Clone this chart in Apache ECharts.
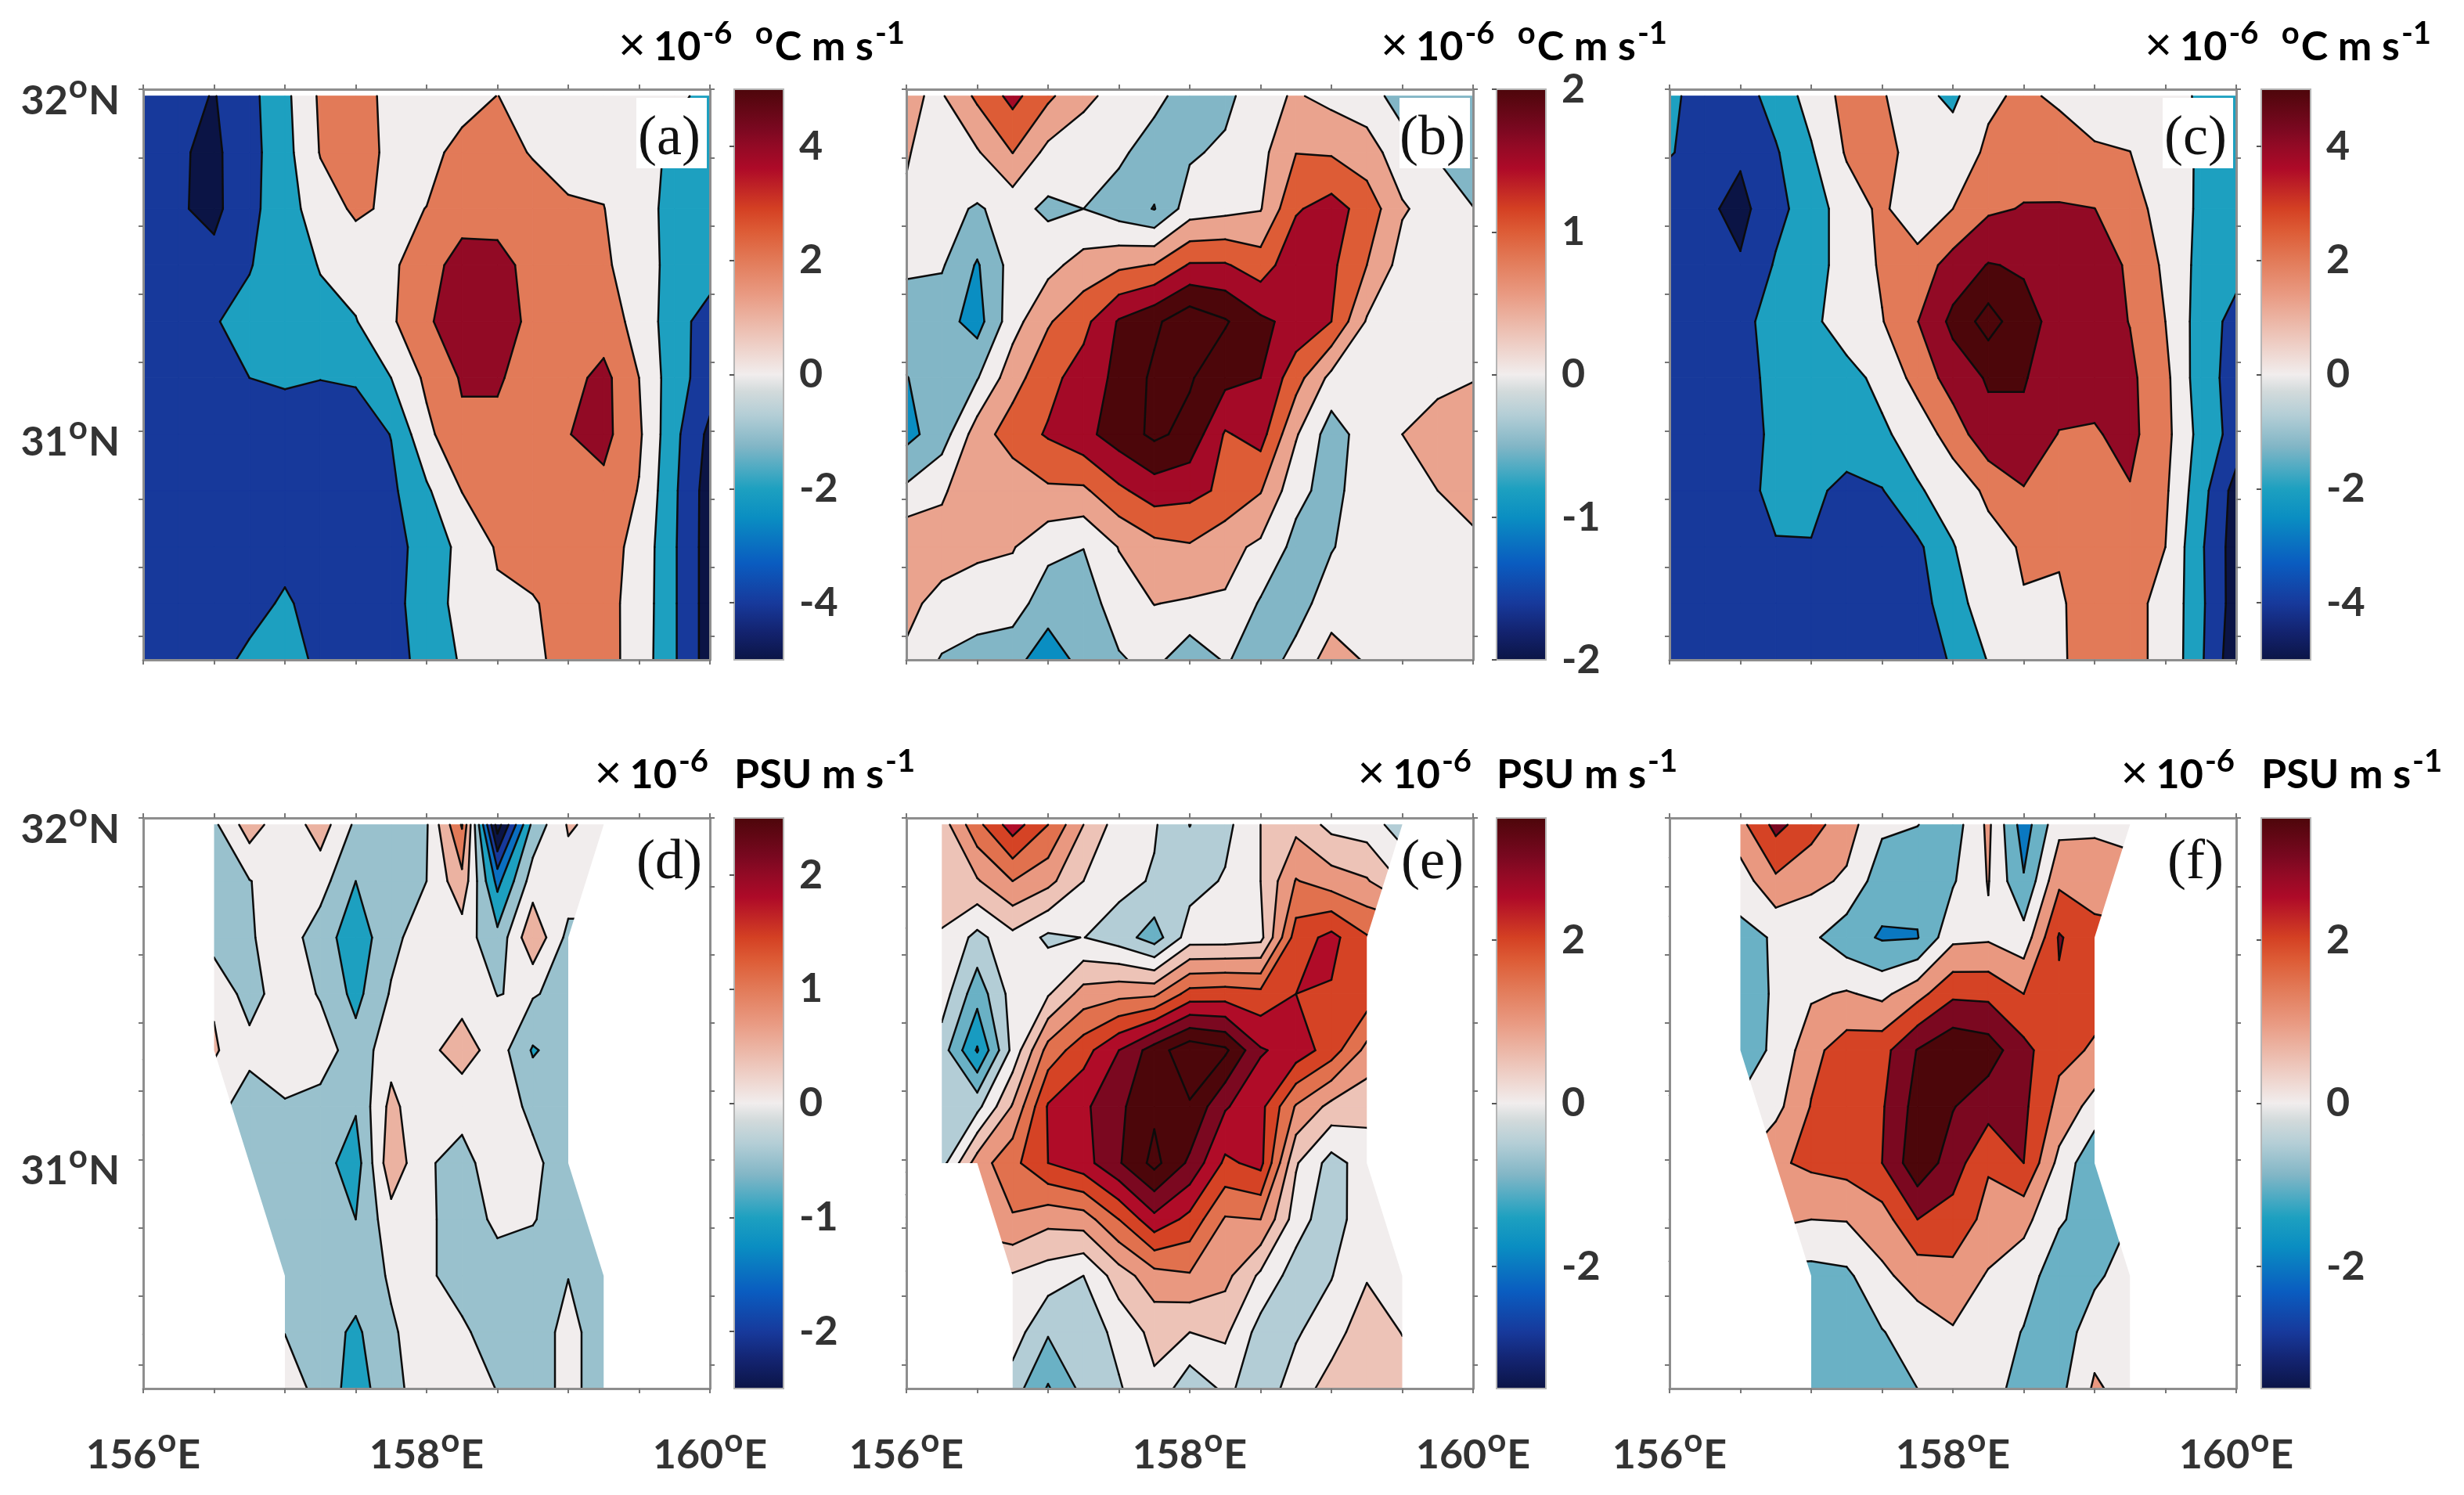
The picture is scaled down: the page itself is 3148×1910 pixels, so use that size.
<!DOCTYPE html>
<html>
<head>
<meta charset="utf-8">
<style>html,body{margin:0;padding:0;background:#fff}#chart{width:3148px;height:1910px}</style>
<script src="https://cdn.jsdelivr.net/npm/echarts@6/dist/echarts.min.js"></script>
</head>
<body>
<div id="chart"></div>
<script>
// grid of the model output
const lons = [156,156.25,156.5,156.75,157,157.25,157.5,157.75,158,158.25,158.5,158.75,159,159.25,159.5,159.75,160];
const lats = [31.98,31.815,31.65,31.485,31.32,31.155,30.99,30.825,30.66,30.495,30.33];
const latTicks = [32,31.8,31.6,31.4,31.2,31,30.8,30.6,30.4];

// values, x 1e-6 (rows north to south)
const panelA = [
  [-4,-4.4,-5.1,-3.6,-1.5,1.3,1.6,.6,.3,.5,1.02,.5,.3,.2,0,-.7,-1.4],
  [-4,-4.8,-5.4,-3.7,-1.7,1.1,1.6,.7,.6,1.4,1.5,.9,.7,.4,-.2,-1.4,-1.6],
  [-4,-4.8,-5.5,-3.5,-1.9,.1,1.3,.7,1.02,1.9,2.5,1.7,1.1,1.05,-.4,-1.5,-1.7],
  [-4,-4.2,-4.4,-3.1,-2,-.9,-.1,.7,2,4,3.4,2.6,2.2,1.4,-.3,-1.5,-2],
  [-4,-3.6,-3.1,-2.5,-2,-1.5,-1.1,.7,2.7,4.2,3.6,2.7,2.2,1.9,.4,-2.2,-3.9],
  [-4,-4,-3.7,-3,-2.85,-2.98,-2.8,-1,1.4,3.2,3.1,2.6,2.3,3.6,1,-2.2,-4],
  [-4,-4,-4,-3.6,-3.6,-3.5,-4,-2.95,.5,2.6,2.8,2.6,2.95,3.6,1.3,-2.5,-5.5],
  [-4,-4,-4,-4,-4,-4,-4,-3.4,-1.3,1.05,1.8,2,2.2,2.5,.9,-2.7,-6],
  [-4,-4,-4,-4,-4,-4,-4,-3.8,-2.1,-.5,1.2,1.8,2,1.8,.4,-2.8,-6],
  [-4,-4,-4,-4,-2.6,-4.2,-4,-3.9,-1.6,-.6,.7,.85,1.7,1.6,.3,-2.8,-6],
  [-4,-4,-4,-2.4,-2,-3.5,-3.6,-3.9,-2.2,-.8,-.1,.7,1.5,1.7,.2,-2.8,-6]
];
const panelB = [
  [.3,.2,.85,1.4,.85,.35,.1,-.1,-.5,-.4,.1,.3,.1,0,-.5,-.5,-.5],
  [.28,.05,.2,.76,.1,0,-.15,-.5,-.32,-.15,.1,.74,.7,.45,0,-.3,-.5],
  [.2,-.1,-.3,-.07,-.35,-.25,-.5,-.77,0,.1,.22,1.2,1.45,1.05,.3,.05,-.24],
  [-.2,-.2,-.8,-.05,.1,.45,.65,.77,1.3,1.3,1,1.6,1.35,.75,.05,0,0],
  [-.4,-.55,-.95,.05,.7,1.1,1.8,2.15,2.6,2.3,1.85,1.6,1.25,.2,.05,.1,.1],
  [-.77,-.45,-.28,.55,1.1,1.47,1.88,2.35,2.3,1.9,1.75,.95,.1,-.05,0,.1,.23],
  [-.9,-.5,.5,1,1.3,1.6,2,2.35,2.1,1.2,1.45,.3,-.5,0,.25,.5,.5],
  [-.15,.2,.5,.4,.67,.66,1.15,1.5,1.4,1.15,.78,-.1,-.45,.1,.2,.25,.5],
  [.7,.4,.35,.28,-.1,-.24,.27,.6,.7,.4,.15,-.4,-.28,0,.1,.15,.1],
  [.33,.15,0,0,-.55,-.5,0,.26,.2,.2,-.3,-.45,0,.1,.1,.1,.1],
  [.2,-.3,-.45,-.6,-1,-.6,-.3,-.1,-.6,-.2,-.5,-.1,.48,.2,.1,.1,.1]
];
const panelC = [
  [-2.5,-4,-3.9,-2.2,-.25,1.6,1.2,-.4,-1.4,.7,1.3,.7,.4,.1,-.4,-1.2,-1.6],
  [-2.9,-3.6,-4.7,-3.2,-1.2,1.2,1.5,.4,0,1.3,2.2,1.9,1.15,1.02,-.2,-1.2,-1.6],
  [-4,-4.6,-5.6,-3.6,-2,0,1.4,-.5,1,2.7,3.1,3.15,3.02,1.9,.1,-1.3,-1.7],
  [-4,-4.2,-4.8,-2.8,-1.5,-.5,1.3,1.9,3.8,5.1,4.8,4.2,3.7,2.8,.6,-1.6,-2.3],
  [-4,-3.8,-3.5,-2.3,-1.4,-.1,.9,2.95,5.5,7.9,5.6,4.4,3.8,2.95,1,-1.9,-3.7],
  [-4,-3.8,-3.5,-2.6,-2.2,-1.6,-.5,1.7,3.9,5.2,5.1,4.2,3.6,3.4,1.5,-2.1,-3.8],
  [-4,-3.9,-3.6,-2.7,-2.2,-1.8,-1.3,-.2,1.9,4.4,4.7,2.9,2.85,3.5,1.6,-1.7,-3.8],
  [-4,-4,-3.5,-2.6,-2.5,-3.6,-3.1,-1.2,-.2,1.4,2.85,2.4,2.5,2.9,1.3,-2.2,-5.8],
  [-4,-4,-4,-3.1,-3.1,-4,-3.8,-3.4,-1.1,.3,1.2,1.2,2,1.9,1,-2.7,-6],
  [-4,-4,-4,-4,-4,-4,-4,-4,-1.6,-.2,.9,.75,2,1.3,.7,-2.6,-6],
  [-4,-4,-4,-4,-4,-4,-4,-4,-2.8,-.9,.5,.7,2,1.3,.7,-2.7,-6.4]
];
const panelD = [
  [-.35,-.35,-.35,.5,-.1,.5,-.35,-.5,-.3,1.3,-3,-.6,.3,.1,.1,.1,.1],
  [-.4,-.4,-.4,-.27,.05,-.05,-.75,-.5,-.25,.6,-1.4,0,.05,.05,.05,.05,.05],
  [-.5,-.5,-.5,-.3,0,-.5,-1.05,-.4,.05,0,-.6,.65,-.4,-.4,-.4,-.4,-.4],
  [.2,.2,.2,-.5,.1,-.3,-.9,-.2,.1,.05,-.26,-.2,-.45,-.45,-.45,-.45,-.45],
  [.3,.3,.3,-.05,.05,.05,-.55,.05,.1,.5,0,-.8,-.5,-.5,-.5,-.5,-.5],
  [0,0,0,-.6,-.3,-.45,-.7,.4,-.2,-.1,.1,-.4,-.5,-.5,-.5,-.5,-.5],
  [-.5,-.5,-.5,-.5,-.5,-.55,-1,.6,-.2,-.4,0,-.1,-.6,-.5,-.5,-.5,-.5],
  [-.45,-.45,-.45,-.45,-.45,-.45,-.75,.05,-.15,-.5,-.15,-.22,-.5,-.5,-.5,-.5,-.5],
  [-.45,-.45,-.45,-.45,-.45,-.45,-.5,-.2,-.15,-.5,-.45,-.5,-.26,-.5,-.5,-.5,-.5],
  [-.26,-.26,-.26,-.26,-.26,-.5,-.85,-.3,-.05,-.15,-.55,-.5,-.1,-.5,-.5,-.5,-.5],
  [0,0,0,0,0,-.4,-1,-.4,0,-.1,-.26,-.5,-.1,-.5,-.5,-.5,-.5]
];
const panelE = [
  [.5,.5,1.6,2.5,1.75,.75,0,-.2,-.76,-.4,.25,.6,.1,0,-.5,-.5,-.5],
  [.5,.5,.7,1.25,.9,.25,-.1,-.3,-.45,-.2,.25,1.28,1,.8,.2,.2,.2],
  [.2,.2,-.4,.1,-.35,-.24,-.5,-1,0,0,.1,2,2.4,1.8,1.8,1.8,1.8],
  [0,0,-1.05,-.05,.2,.95,1.1,1.15,1.95,2,1.9,2.25,2.2,2.05,2.05,2.05,2.05],
  [-.5,-.5,-1.8,-.1,1.45,2.05,2.75,3.5,4.1,3.85,2.8,2.55,2,1.1,1.1,1.1,1.1],
  [-.5,-.5,-.4,.8,2.3,2.65,3.15,3.65,3.7,2.8,2.4,1.2,.6,.4,.4,.4,.4],
  [-.45,-.45,1,1.6,2.25,2.55,3.2,3.9,3.15,2.15,2.4,.3,-.45,0,0,0,0],
  [.8,.8,1,1.2,.9,1,1.75,2.6,2.1,1.2,1.25,0,-.6,.2,.2,.2,.2],
  [.2,.2,.2,.2,0,-.25,.5,1.05,1.2,.9,.15,-.5,-.27,.2,.2,.2,.2],
  [0,0,0,0,-.7,-.55,-.1,.4,.25,.35,-.45,-.3,0,.6,.23,.23,.23],
  [-.5,-.5,-.5,-.5,-1.3,-.6,-.3,.15,-.6,-.15,-.5,-.05,.5,.55,.55,.55,.55]
];
const panelF = [
  [1.2,1.2,1.2,2.8,1.9,.9,-.3,-.48,-1,.7,-2,.2,.3,.1,.1,.1,.1],
  [0,0,0,1.3,.75,.35,-1.1,-1.2,-.6,.55,-1.41,1.3,1.15,1,1,1,1],
  [-.8,-.8,-.8,-.4,-.3,-1.1,-1.6,-1.55,.25,.35,-.1,2.6,1.75,1.7,1.7,1.7,1.7],
  [-.9,-.9,-.9,-.4,.35,.6,.25,1.15,2.3,2.25,1.5,2.35,1.8,1.8,1.8,1.8,1.8],
  [-.9,-.9,-.9,-.35,1.2,2,2.15,3.55,4.3,4,2.8,1.75,1.4,1.4,1.4,1.4,1.4],
  [-.4,-.4,-.4,.2,1.55,2.1,2.4,3.9,3.55,2.9,2.7,1.2,.1,.1,.1,.1,.1],
  [.5,.5,.5,1.35,1.7,1.9,2.5,4.2,3,1.6,2.5,.2,-1.3,-1.3,-1.3,-1.3,-1.3],
  [.5,.5,.5,.7,.5,.55,1.05,2.5,2.1,1.2,.8,-.4,-.9,-.5,-.5,-.5,-.5],
  [-.85,-.85,-.85,-.85,-.85,-.7,.3,.9,1.2,.4,-.1,-1,-.7,0,0,0,0],
  [-1,-1,-1,-1,-1,-1,-.55,0,.4,0,-.55,-1.1,.1,0,0,0,0],
  [-1,-1,-1,-1,-1,-1,-1,-.5,0,0,-1,-.8,.65,.1,.1,.1,.1]
];

// contour levels of each panel
const levelsAC = [-7,-5,-3,-1,1,3,5,7];
const levelsB = [-2.25,-1.75,-1.25,-.75,-.25,.25,.75,1.25,1.75,2.25];
const levelsD = [-2.75,-2.25,-1.75,-1.25,-.75,-.25,.25,.75,1.25,1.75,2.25,2.75];
const levelsE = [-3.75,-3.25,-2.75,-2.25,-1.75,-1.25,-.75,-.25,.25,.75,1.25,1.75,2.25,2.75,3.25,3.75];
const levelsF = [-3.5,-2.5,-1.5,-.5,.5,1.5,2.5,3.5];

// edge of the salinity data (lon, lat), everything outside is blank
const leftD = [[156.5,32],[156.5,31.32],[157,30.66],[157,30.33]];
const rightD = [[159.25,32],[159.25,31.98],[159.125,31.815],[159,31.65],[159,30.99],[159.25,30.66],[159.25,30.33]];
const leftE = [[156.25,32],[156.25,30.99],[156.5,30.99],[156.75,30.66],[156.75,30.33]];
const rightE = [[159.5,32],[159.5,31.98],[159.25,31.65],[159.25,30.99],[159.5,30.66],[159.5,30.33]];

// colorbar ranges and ticks
const climAC = [-5,5], ticksAC = [-4,-2,0,2,4];
const climB = [-2,2], ticksB = [-2,-1,0,1,2];
const climD = [-2.5,2.5], ticksD = [-2,-1,0,1,2];
const climEF = [-3.5,3.5], ticksEF = [-2,0,2];

// colormap as seen in the colorbars
const cmapPos = [0,.05,.1,.17,.25,.3,.375,.43,.47,.5,.57,.64,.7,.75,.79,.86,.9,.93,1];
const cmapCol = ['#0b1445','#13236f','#17399b','#0a5cc0','#0a8ec2','#1da0c0','#82b6c6','#b4ced6','#d2dadb','#f1eded','#edc4b8','#e99a82','#e27a58','#dd5c36','#d44023','#ae0a28','#920a25','#7a0820','#4c060a'];

const FONT = 'Lato';
const GREY = '#8e8e8e';

function hexRgb(h) { return [1,3,5].map(i => parseInt(h.substr(i,2),16)); }
function cmap(t) {
  t = Math.max(0, Math.min(1, t));
  let i = 0;
  while (i < cmapPos.length - 2 && t > cmapPos[i+1]) i++;
  const f = (t - cmapPos[i]) / (cmapPos[i+1] - cmapPos[i]);
  const a = hexRgb(cmapCol[i]), b = hexRgb(cmapCol[i+1]);
  return 'rgb(' + a.map((v,k) => Math.round(v + (b[k]-v)*f)).join(',') + ')';
}

// cut a polygon to v>=L (sign 1) or v<=L (sign -1)
function clip(poly, L, sign) {
  const out = [];
  for (let i = 0; i < poly.length; i++) {
    const p = poly[i], q = poly[(i+1)%poly.length];
    const pin = (p[2]-L)*sign >= 0, qin = (q[2]-L)*sign >= 0;
    if (pin) out.push(p);
    if (pin !== qin) {
      const f = (L-p[2])/(q[2]-p[2]);
      out.push([p[0]+(q[0]-p[0])*f, p[1]+(q[1]-p[1])*f, L]);
    }
  }
  return out;
}

// filled bands and contour segments, in lon/lat
function contour(grid, levels, clim) {
  const fills = [], lines = [];
  const edges = [-Infinity].concat(levels, [Infinity]);
  for (let b = 0; b < edges.length-1; b++) {
    const lo = edges[b], hi = edges[b+1];
    const mid = isFinite(lo) && isFinite(hi) ? (lo+hi)/2 : (isFinite(lo) ? clim[1]*2 : clim[0]*2);
    const color = cmap((mid-clim[0])/(clim[1]-clim[0]));
    const polys = [];
    for (let r = 0; r < lats.length-1; r++) for (let c = 0; c < lons.length-1; c++) {
      let poly = [[lons[c],lats[r],grid[r][c]],[lons[c+1],lats[r],grid[r][c+1]],[lons[c+1],lats[r+1],grid[r+1][c+1]],[lons[c],lats[r+1],grid[r+1][c]]];
      if (isFinite(lo)) poly = clip(poly, lo, 1);
      if (poly.length > 2 && isFinite(hi)) poly = clip(poly, hi, -1);
      if (poly.length > 2) polys.push(poly);
    }
    fills.push({color, polys});
  }
  levels.forEach(L => {
    for (let r = 0; r < lats.length-1; r++) for (let c = 0; c < lons.length-1; c++) {
      const q = [[lons[c],lats[r],grid[r][c]],[lons[c+1],lats[r],grid[r][c+1]],[lons[c+1],lats[r+1],grid[r+1][c+1]],[lons[c],lats[r+1],grid[r+1][c]]];
      const cross = [];
      for (let i = 0; i < 4; i++) {
        const p = q[i], n = q[(i+1)%4];
        if ((p[2] < L) !== (n[2] < L)) {
          const f = (L-p[2])/(n[2]-p[2]);
          cross[i] = [p[0]+(n[0]-p[0])*f, p[1]+(n[1]-p[1])*f];
        }
      }
      const idx = [0,1,2,3].filter(i => cross[i]);
      if (idx.length === 2) lines.push([cross[idx[0]], cross[idx[1]]]);
      if (idx.length === 4) {
        for (let i = 0; i < 4; i++) if (q[i][2] < L) lines.push([cross[(i+3)%4], cross[i]]);
      }
    }
  });
  return {fills, lines};
}

const LEFTS = [183, 1158, 2133];
const CB_LEFTS = [938, 1912, 2889];
const TOPS = [114, 1045];
const PW = 724, PH = 729, CW = 63;

const panels = [
  {grid:panelA, levels:levelsAC, clim:climAC, ticks:ticksAC, col:0, row:0, tag:'(a)', box:true},
  {grid:panelB, levels:levelsB, clim:climB, ticks:ticksB, col:1, row:0, tag:'(b)', box:true},
  {grid:panelC, levels:levelsAC, clim:climAC, ticks:ticksAC, col:2, row:0, tag:'(c)', box:true},
  {grid:panelD, levels:levelsD, clim:climD, ticks:ticksD, col:0, row:1, tag:'(d)', left:leftD, right:rightD},
  {grid:panelE, levels:levelsE, clim:climEF, ticks:ticksEF, col:1, row:1, tag:'(e)', left:leftE, right:rightE},
  {grid:panelF, levels:levelsF, clim:climEF, ticks:ticksEF, col:2, row:1, tag:'(f)', left:leftD, right:rightD}
];

const richO = {o:{fontFamily:FONT, fontWeight:'bold', fontSize:42, color:'#333', padding:[0,1,36,1]}};
const grids = [], xAxes = [], yAxes = [], series = [], graphics = [];

panels.forEach((p, i) => {
  const left = LEFTS[p.col], top = TOPS[p.row];
  grids.push({left, top, width:PW, height:PH});
  const lineStyle = {color:GREY, width:3};
  const tick = {show:true, length:6, inside:false, lineStyle:{color:'#777', width:2}};
  xAxes.push({gridIndex:grids.length-1, type:'value', min:156, max:160, interval:.5, position:'bottom', z:10,
    splitLine:{show:false}, axisLine:{onZero:false, lineStyle}, axisTick:tick,
    axisLabel:{show:p.row===1, customValues:[156,158,160], margin:46, hideOverlap:false, color:'#333', fontFamily:FONT, fontWeight:'bold', fontSize:52, rich:richO, formatter:v => v + '{o|o}E'}});
  xAxes.push({gridIndex:grids.length-1, type:'value', min:156, max:160, interval:.5, position:'top', z:10,
    splitLine:{show:false}, axisLine:{onZero:false, lineStyle}, axisTick:tick, axisLabel:{show:false}});
  yAxes.push({gridIndex:grids.length-1, type:'value', min:30.33, max:32, position:'left', z:10,
    splitLine:{show:false}, axisLine:{onZero:false, lineStyle}, axisTick:Object.assign({customValues:latTicks}, tick),
    axisLabel:{show:p.col===0, customValues:[31,32], margin:30, color:'#333', fontFamily:FONT, fontWeight:'bold', fontSize:52, rich:richO, padding:[30,0,0,0], formatter:v => Math.round(v) + '{o|o}N'}});
  yAxes.push({gridIndex:grids.length-1, type:'value', min:30.33, max:32, position:'right', z:10,
    splitLine:{show:false}, axisLine:{onZero:false, lineStyle}, axisTick:Object.assign({customValues:latTicks}, tick), axisLabel:{show:false}});

  const c = contour(p.grid, p.levels, p.clim);
  series.push({
    type:'custom', coordinateSystem:'cartesian2d', xAxisIndex:xAxes.length-2, yAxisIndex:yAxes.length-2, silent:true, clip:false,
    data:[[156,32]],
    renderItem: (params, api) => {
      const children = [];
      c.fills.forEach(f => f.polys.forEach(poly => {
        children.push({type:'polygon', shape:{points:poly.map(v => api.coord([v[0],v[1]]))},
          style:{fill:f.color, stroke:f.color, lineWidth:1}});
      }));
      c.lines.forEach(s => {
        const a = api.coord(s[0]), b = api.coord(s[1]);
        children.push({type:'line', shape:{x1:a[0],y1:a[1],x2:b[0],y2:b[1]},
          style:{stroke:'#0c0c0c', lineWidth:2.5, lineCap:'round'}});
      });
      if (p.left) {
        const pts = [[156,32]].concat(p.left, [[156,30.33]]);
        children.push({type:'polygon', shape:{points:pts.map(v => api.coord(v))}, style:{fill:'#fff'}});
        const ptsR = [[160,32]].concat(p.right, [[160,30.33]]);
        children.push({type:'polygon', shape:{points:ptsR.map(v => api.coord(v))}, style:{fill:'#fff'}});
      }
      return {type:'group', children};
    }
  });

  // colorbar
  const cbLeft = CB_LEFTS[p.col];
  grids.push({left:cbLeft, top, width:CW, height:PH});
  xAxes.push({gridIndex:grids.length-1, type:'value', min:0, max:1, show:false});
  yAxes.push({gridIndex:grids.length-1, type:'value', min:p.clim[0], max:p.clim[1], position:'right', z:10,
    splitLine:{show:false}, axisLine:{show:false}, axisTick:{customValues:p.ticks, inside:true, length:6, lineStyle:{color:'#555', width:2}},
    axisLabel:{customValues:p.ticks, margin:20, color:'#333', fontFamily:FONT, fontWeight:'bold', fontSize:52}});
  const stops = cmapPos.map((pos,k) => ({offset:pos, color:cmapCol[k]}));
  series.push({
    type:'custom', coordinateSystem:'cartesian2d', xAxisIndex:xAxes.length-1, yAxisIndex:yAxes.length-1, silent:true,
    data:[[0,p.clim[0]]],
    renderItem: (params, api) => {
      const a = api.coord([0,p.clim[1]]), b = api.coord([1,p.clim[0]]);
      return {type:'rect', shape:{x:a[0],y:a[1],width:b[0]-a[0],height:b[1]-a[1]},
        style:{fill:new echarts.graphic.LinearGradient(0,1,0,0,stops), stroke:'#b5b5b5', lineWidth:2}};
    }
  });

  // panel tag
  if (p.box) graphics.push({type:'rect', z:50, shape:{x:left+630,y:top+11,width:90,height:90}, style:{fill:'#fff'}});
  graphics.push({type:'text', z:51, x:left+672, y:top+(p.box?64:58),
    style:{text:p.tag, fontFamily:'Liberation Serif', fontSize:72, fill:'#111', align:'center', verticalAlign:'middle'}});
});

// units over the colorbars
const richUnit = {
  x:{fontFamily:'Liberation Sans', fontSize:60, color:'#333', padding:[0,10,0,0]},
  n:{fontFamily:FONT, fontWeight:'bold', fontSize:52, color:'#222'},
  s:{fontFamily:FONT, fontWeight:'bold', fontSize:40, color:'#222', padding:[0,2,34,2]}
};
const unitT = '{x|×}{n|10}{s|-6}{n|  }{s|o}{n|C m s}{s|-1}';
const unitS = '{x|×}{n|10}{s|-6}';
const unitP = '{n|PSU m s}{s|-1}';
[0,1,2].forEach(col => {
  const right = [1158, 2132, 3108][col];
  graphics.push({type:'text', z:51, x:right, y:60, style:{text:unitT, rich:richUnit, align:'right', verticalAlign:'middle'}});
  graphics.push({type:'text', z:51, x:LEFTS[col]+PW, y:990, style:{text:unitS, rich:richUnit, align:'right', verticalAlign:'middle'}});
  graphics.push({type:'text', z:51, x:CB_LEFTS[col], y:990, style:{text:unitP, rich:richUnit, align:'left', verticalAlign:'middle'}});
});

const chart = echarts.init(document.getElementById('chart'), null, {renderer:'canvas'});
chart.setOption({
  animation:false,
  backgroundColor:'#fff',
  grid:grids,
  xAxis:xAxes,
  yAxis:yAxes,
  series,
  graphic:graphics
});
</script>
</body>
</html>
